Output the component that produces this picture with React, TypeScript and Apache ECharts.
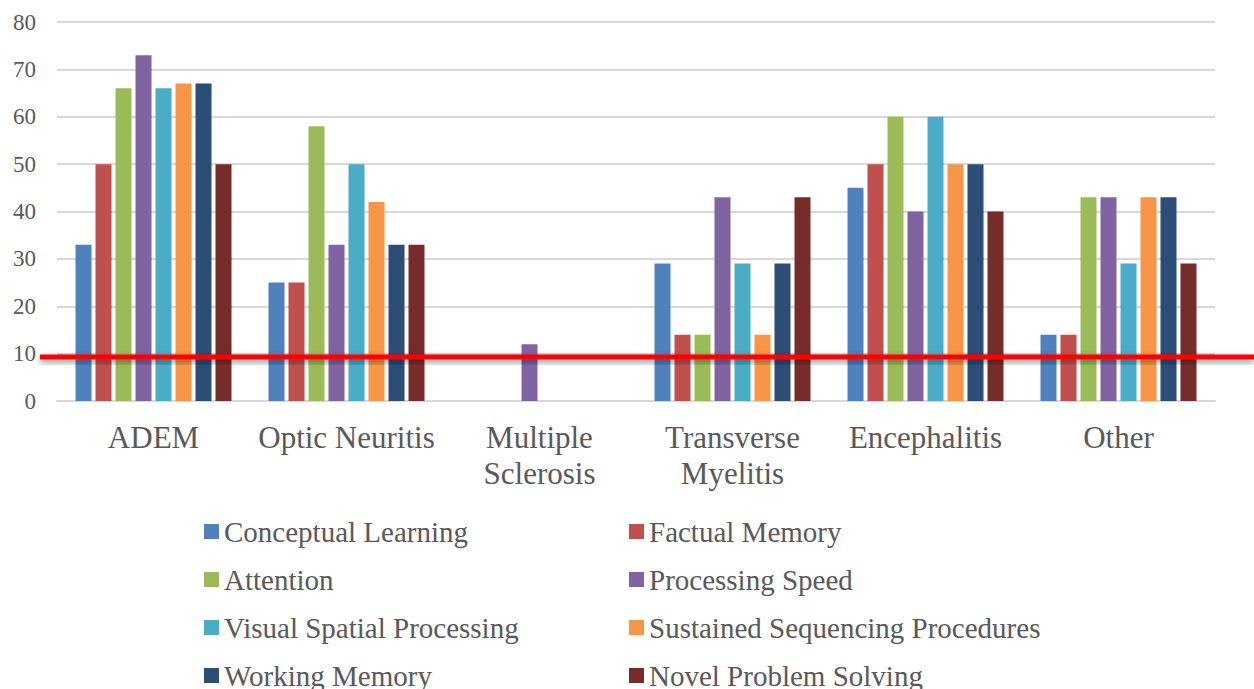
import React, { useEffect, useRef } from "react";
import * as echarts from "echarts";

const categories = ["ADEM", "Optic Neuritis", "Multiple Sclerosis", "Transverse Myelitis", "Encephalitis", "Other"];
const seriesNames = [
  "Conceptual Learning",
  "Factual Memory",
  "Attention",
  "Processing Speed",
  "Visual Spatial Processing",
  "Sustained Sequencing Procedures",
  "Working Memory",
  "Novel Problem Solving",
];
const conceptualLearning = [33, 25, 0, 29, 45, 14];
const factualMemory = [50, 25, 0, 14, 50, 14];
const attention = [66, 58, 0, 14, 60, 43];
const processingSpeed = [73, 33, 12, 43, 40, 43];
const visualSpatial = [66, 50, 0, 29, 60, 29];
const sustainedSequencing = [67, 42, 0, 14, 50, 43];
const workingMemory = [67, 33, 0, 29, 50, 43];
const novelProblem = [50, 33, 0, 43, 40, 29];
const seriesValues = [
  conceptualLearning,
  factualMemory,
  attention,
  processingSpeed,
  visualSpatial,
  sustainedSequencing,
  workingMemory,
  novelProblem,
];
const colors = ["#4F81BD", "#C0504D", "#9BBB59", "#8064A2", "#4BACC6", "#F79646", "#2C4D75", "#772C2A"];
const yTicks = { min: 0, max: 80, interval: 10 };
const thresholdValue = 9.3;

const FONT = '"Liberation Serif", "Times New Roman", serif';
const TEXT = "#595959";
const GRID = { left: 57, right: 39, top: 22, bottom: 288 };
const H = 689;

export default function App() {
  const ref = useRef<HTMLDivElement>(null);
  useEffect(() => {
    if (!ref.current) return;
    const chart = echarts.init(ref.current, null, { renderer: "svg" });
    const legendText = { fontFamily: FONT, fontSize: 29, color: TEXT, lineHeight: 26 };
    const legendCommon = {
      orient: "vertical" as const,
      itemWidth: 15,
      itemHeight: 15,
      icon: "rect",
      itemGap: 19,
      padding: 0,
      height: 220,
      textStyle: legendText,
      top: 517,
    };
    const plotH = H - GRID.top - GRID.bottom;
    const lineY = GRID.top + plotH * (1 - (thresholdValue - yTicks.min) / (yTicks.max - yTicks.min));
    const lineW = 5;
    chart.setOption({
      animation: false,
      color: colors,
      grid: { ...GRID, containLabel: false },
      legend: [
        { ...legendCommon, left: 204, data: [seriesNames[0], seriesNames[2], seriesNames[4], seriesNames[6]] },
        { ...legendCommon, left: 629, data: [seriesNames[1], seriesNames[3], seriesNames[5], seriesNames[7]] },
      ],
      xAxis: {
        type: "category",
        data: categories,
        axisLine: { lineStyle: { color: "#d9d9d9", width: 2 } },
        axisTick: { show: false },
        axisLabel: {
          interval: 0,
          fontFamily: FONT,
          fontSize: 31,
          color: TEXT,
          lineHeight: 36,
          margin: 18,
          formatter: (v: string) =>
            v === "Multiple Sclerosis" || v === "Transverse Myelitis" ? v.replace(" ", "\n") : v,
        },
      },
      yAxis: {
        type: "value",
        min: yTicks.min,
        max: yTicks.max,
        interval: yTicks.interval,
        axisLine: { show: false },
        axisTick: { show: false },
        splitLine: { lineStyle: { color: "#d9d9d9", width: 2 } },
        axisLabel: { fontFamily: FONT, fontSize: 23, color: TEXT, margin: 21 },
      },
      series: seriesNames.map((name, i) => ({
        name,
        type: "bar",
        data: seriesValues[i],
        barWidth: 16,
        barGap: "25%",
        itemStyle: { color: colors[i] },
      })),
      graphic: [
        {
          type: "rect",
          z: 100,
          shape: { x: 40, y: lineY - lineW / 2, width: 1214, height: lineW },
          style: {
            fill: "#FF0000",
            shadowBlur: 6,
            shadowColor: "rgba(0,0,0,0.45)",
            shadowOffsetY: 3,
          },
        },
      ],
    });
    return () => chart.dispose();
  }, []);
  return <div ref={ref} style={{ width: 1254, height: H, position: "absolute", left: 0, top: 0 }} />;
}
